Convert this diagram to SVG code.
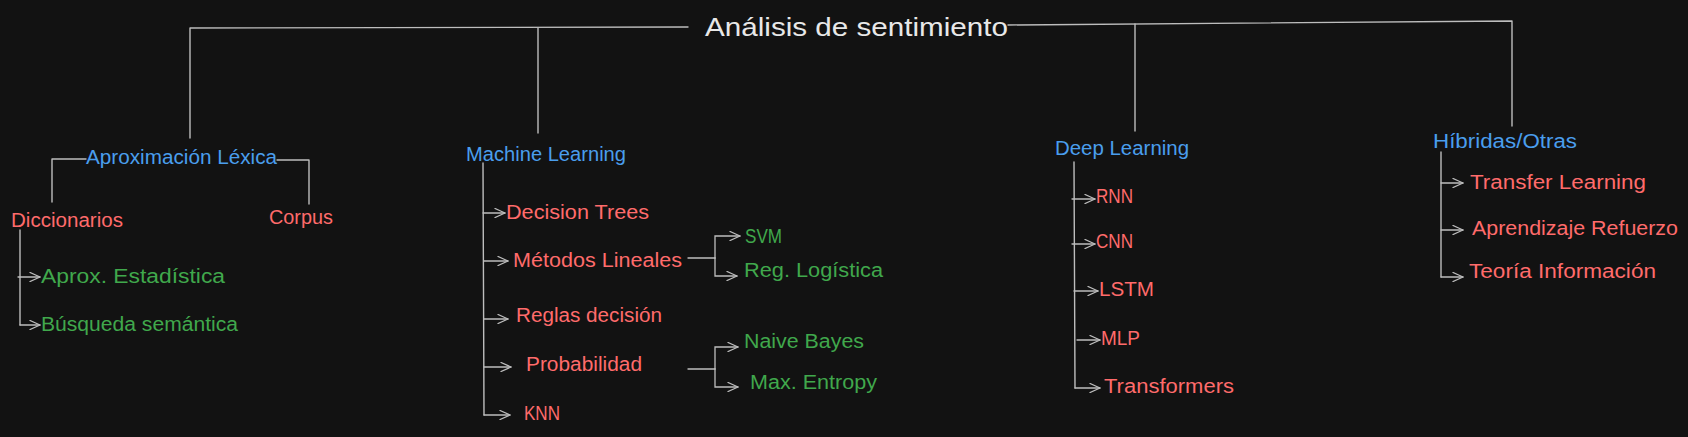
<svg xmlns="http://www.w3.org/2000/svg" width="1688" height="437" viewBox="0 0 1688 437">
<defs>
<marker id="arr" viewBox="0 0 12 10" refX="11" refY="5" markerWidth="12" markerHeight="10" markerUnits="userSpaceOnUse" orient="auto">
<path d="M1,0.5 L11,5 L1,9.5" fill="none" stroke="#bdbdbd" stroke-width="1.3" stroke-linecap="round" stroke-linejoin="round"/>
</marker>
<style>
.bg{fill:#121212}
.ln{fill:none;stroke:#bdbdbd;stroke-width:1.4;stroke-linecap:round;stroke-linejoin:round}
.ar{fill:none;stroke:#bdbdbd;stroke-width:1.3;stroke-linecap:round;marker-end:url(#arr)}
text{font-family:"Liberation Sans","DejaVu Sans",sans-serif;font-size:20px}
.t{fill:#e8e8e8;font-size:26px}
.b{fill:#4a9eed}
.r{fill:#ff6b6b}
.g{fill:#40a84c}
</style>
</defs>
<rect class="bg" x="0" y="0" width="1688" height="437"/>
<g id="connectors">
<path class="ln" d="M688 27 L190 28 L190 138"/>
<path class="ln" d="M538 28 L538 133"/>
<path class="ln" d="M1008 25 L1512 21 L1512 126"/>
<path class="ln" d="M1135 24 L1135 131"/>
<path class="ln" d="M86 159 L52 159 L52 202"/>
<path class="ln" d="M277 160 L309 160 L309 204"/>
<path class="ln" d="M20 230 L20 325"/>
<path class="ar" d="M18 277 L40 277"/>
<path class="ar" d="M20 325 L40 325"/>
<path class="ln" d="M483 163 L484 415"/>
<path class="ar" d="M483 213 L505 213"/>
<path class="ar" d="M484 261 L508 261"/>
<path class="ar" d="M484 319 L508 319"/>
<path class="ar" d="M484 367 L511 367"/>
<path class="ar" d="M484 415 L510 415"/>
<path class="ln" d="M688 258 L715 258"/>
<path class="ar" d="M715 258 L715 236 L740 236"/>
<path class="ar" d="M715 258 L715 276 L737 276"/>
<path class="ln" d="M688 369 L715 369"/>
<path class="ar" d="M715 369 L715 347 L738 347"/>
<path class="ar" d="M715 369 L715 387 L738 387"/>
<path class="ln" d="M1074 162 L1075 388"/>
<path class="ar" d="M1072 199 L1095 199"/>
<path class="ar" d="M1072 244 L1095 244"/>
<path class="ar" d="M1074 291 L1098 291"/>
<path class="ar" d="M1077 340 L1100 340"/>
<path class="ar" d="M1075 388 L1100 388"/>
<path class="ln" d="M1441 152 L1441 277"/>
<path class="ar" d="M1441 183 L1463 183"/>
<path class="ar" d="M1441 230 L1463 230"/>
<path class="ar" d="M1441 277 L1463 277"/>
</g>
<g id="root"><text class="t" x="705" y="36" textLength="303" lengthAdjust="spacingAndGlyphs">Análisis de sentimiento</text></g>
<g id="aprox-lexica"><text class="b" x="86" y="164" textLength="191" lengthAdjust="spacingAndGlyphs">Aproximación Léxica</text></g>
<g id="diccionarios"><text class="r" x="11" y="227" textLength="112" lengthAdjust="spacingAndGlyphs">Diccionarios</text></g>
<g id="corpus"><text class="r" x="269" y="224" textLength="64" lengthAdjust="spacingAndGlyphs">Corpus</text></g>
<g id="aprox-estadistica"><text class="g" x="41" y="283" textLength="184" lengthAdjust="spacingAndGlyphs">Aprox. Estadística</text></g>
<g id="busqueda-semantica"><text class="g" x="41" y="331" textLength="197" lengthAdjust="spacingAndGlyphs">Búsqueda semántica</text></g>
<g id="machine-learning"><text class="b" x="466" y="161" textLength="160" lengthAdjust="spacingAndGlyphs">Machine Learning</text></g>
<g id="decision-trees"><text class="r" x="506" y="219" textLength="143" lengthAdjust="spacingAndGlyphs">Decision Trees</text></g>
<g id="metodos-lineales"><text class="r" x="513" y="267" textLength="169" lengthAdjust="spacingAndGlyphs">Métodos Lineales</text></g>
<g id="svm"><text class="g" x="745" y="243" textLength="37" lengthAdjust="spacingAndGlyphs">SVM</text></g>
<g id="reg-logistica"><text class="g" x="744" y="277" textLength="139" lengthAdjust="spacingAndGlyphs">Reg. Logística</text></g>
<g id="reglas-decision"><text class="r" x="516" y="322" textLength="146" lengthAdjust="spacingAndGlyphs">Reglas decisión</text></g>
<g id="probabilidad"><text class="r" x="526" y="371" textLength="116" lengthAdjust="spacingAndGlyphs">Probabilidad</text></g>
<g id="naive-bayes"><text class="g" x="744" y="348" textLength="120" lengthAdjust="spacingAndGlyphs">Naive Bayes</text></g>
<g id="max-entropy"><text class="g" x="750" y="389" textLength="127" lengthAdjust="spacingAndGlyphs">Max. Entropy</text></g>
<g id="knn"><text class="r" x="524" y="420" textLength="36" lengthAdjust="spacingAndGlyphs">KNN</text></g>
<g id="deep-learning"><text class="b" x="1055" y="155" textLength="134" lengthAdjust="spacingAndGlyphs">Deep Learning</text></g>
<g id="rnn"><text class="r" x="1096" y="203" textLength="37" lengthAdjust="spacingAndGlyphs">RNN</text></g>
<g id="cnn"><text class="r" x="1096" y="248" textLength="37" lengthAdjust="spacingAndGlyphs">CNN</text></g>
<g id="lstm"><text class="r" x="1099" y="296" textLength="55" lengthAdjust="spacingAndGlyphs">LSTM</text></g>
<g id="mlp"><text class="r" x="1101" y="345" textLength="39" lengthAdjust="spacingAndGlyphs">MLP</text></g>
<g id="transformers"><text class="r" x="1104" y="393" textLength="130" lengthAdjust="spacingAndGlyphs">Transformers</text></g>
<g id="hibridas-otras"><text class="b" x="1433" y="148" textLength="144" lengthAdjust="spacingAndGlyphs">Híbridas/Otras</text></g>
<g id="transfer-learning"><text class="r" x="1470" y="189" textLength="176" lengthAdjust="spacingAndGlyphs">Transfer Learning</text></g>
<g id="aprendizaje-refuerzo"><text class="r" x="1472" y="235" textLength="206" lengthAdjust="spacingAndGlyphs">Aprendizaje Refuerzo</text></g>
<g id="teoria-informacion"><text class="r" x="1469" y="278" textLength="187" lengthAdjust="spacingAndGlyphs">Teoría Información</text></g>
</svg>
